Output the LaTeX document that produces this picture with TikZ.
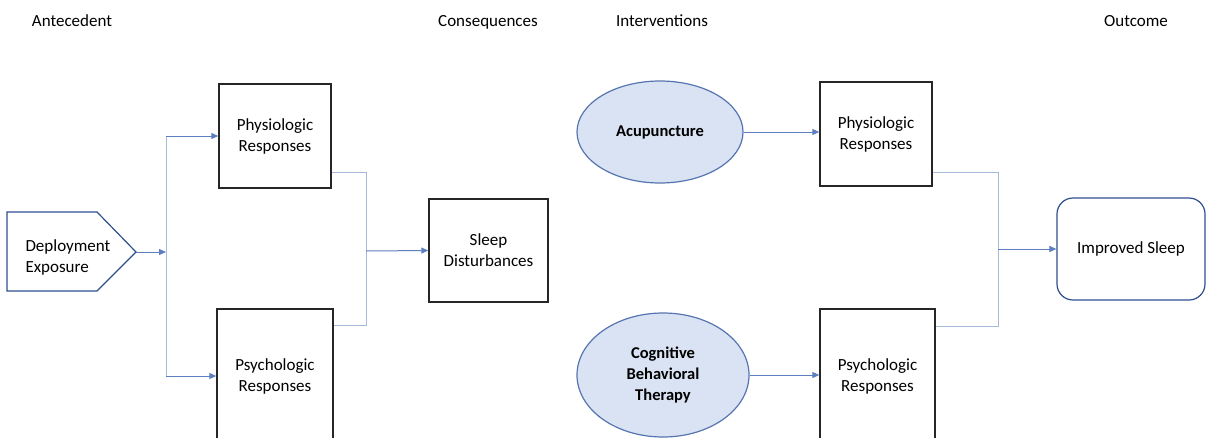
\documentclass[tikz,border=0pt]{standalone}
\usepackage{fontspec}
\setmainfont{Carlito}
\usetikzlibrary{arrows.meta,shapes.geometric}
\definecolor{conn}{HTML}{A7BADC}
\definecolor{arr}{HTML}{5B7FC0}
\definecolor{ellfill}{HTML}{DAE3F3}
\definecolor{ellbord}{HTML}{5675B0}
\definecolor{darkblue}{HTML}{2F4F8F}
\tikzset{
  txt/.style={font=\fontsize{17}{21}\selectfont},
  box/.style={txt, draw=black!85, line width=1.4pt, rectangle, align=center},
  ell/.style={ellipse, draw=ellbord, fill=ellfill, line width=1.2pt, align=center, font=\bfseries\fontsize{16.5}{21}\selectfont, inner sep=0pt},
  hdr/.style={anchor=base, txt},
  cline/.style={draw=conn, line width=1pt},
  arrline/.style={draw=arr, line width=1pt, -{Triangle[length=7pt,width=6pt]}},
}
\begin{document}
\begin{tikzpicture}[x=1pt,y=-1pt]
\useasboundingbox (0,0) rectangle (1207,437);
\clip (0,0) rectangle (1207,437);
\fill[white] (0,0) rectangle (1207,437);
% headers
\node[hdr] (h1) at (72,26) {Antecedent};
\node[hdr] (h2) at (488,26) {Consequences};
\node[hdr] (h3) at (662,26) {Interventions};
\node[hdr] (h4) at (1136,26) {Outcome};
% pentagon
\draw[draw=darkblue, line width=1.2pt] (7,212) -- (97,212) -- (136,252) -- (97,291) -- (7,291) -- cycle;
\node[txt, align=left, anchor=west] (dep) at (22,257) {Deployment\\Exposure};
\coordinate (deptip) at (136,252);
\coordinate (j1) at (166,252);
\coordinate (j1t) at (166,136);
\coordinate (j1b) at (166,376);
% boxes
\node[box, minimum width=112pt, minimum height=104pt] (p1) at (275,136) {Physiologic\\Responses};
\node[box, minimum width=116pt, minimum height=134pt] (s1) at (275,376) {Psychologic\\Responses};
\node[box, minimum width=119pt, minimum height=103pt] (sl) at (488.5,250.5) {Sleep\\Disturbances};
\node[ell, minimum width=166pt, minimum height=102pt] (acu) at (660,132) {Acupuncture};
\node[box, minimum width=112pt, minimum height=104pt] (p2) at (876,134) {Physiologic\\Responses};
\node[ell, minimum width=172pt, minimum height=124pt] (cbt) at (663,375) {Cognitive\\Behavioral\\Therapy};
\node[box, minimum width=115pt, minimum height=134pt] (s2) at (877.5,376) {Psychologic\\Responses};
\node[txt, draw=darkblue, line width=1.2pt, rounded corners=16pt, minimum width=148pt, minimum height=102pt] (imp) at (1131,249) {Improved Sleep};
% left connectors
\draw[arrline] (deptip) -- (j1);
\draw[cline] (j1t) -- (j1b);
\draw[arrline] (j1t) -- (p1.west);
\draw[arrline] (j1b) -- (s1.west);
\coordinate (k1t) at (366,172);
\coordinate (k1b) at (366,325);
\coordinate (k1m) at (366,251);
\draw[cline] ([yshift=-36pt]p1.east) -- (k1t) -- (k1b) -- ([yshift=51pt]s1.east);
\draw[arrline] (k1m) -- (sl.west);
% right connectors
\draw[arrline] (acu.east) -- (acu.east -| p2.west);
\draw[arrline] (cbt.east) -- (cbt.east -| s2.west);
\coordinate (k2t) at (998,172);
\coordinate (k2b) at (998,326);
\coordinate (k2m) at (998,249);
\draw[cline] ([yshift=-38pt]p2.east) -- (k2t) -- (k2b) -- ([yshift=50pt]s2.east);
\draw[arrline] (k2m) -- (imp.west);
\end{tikzpicture}
\end{document}
